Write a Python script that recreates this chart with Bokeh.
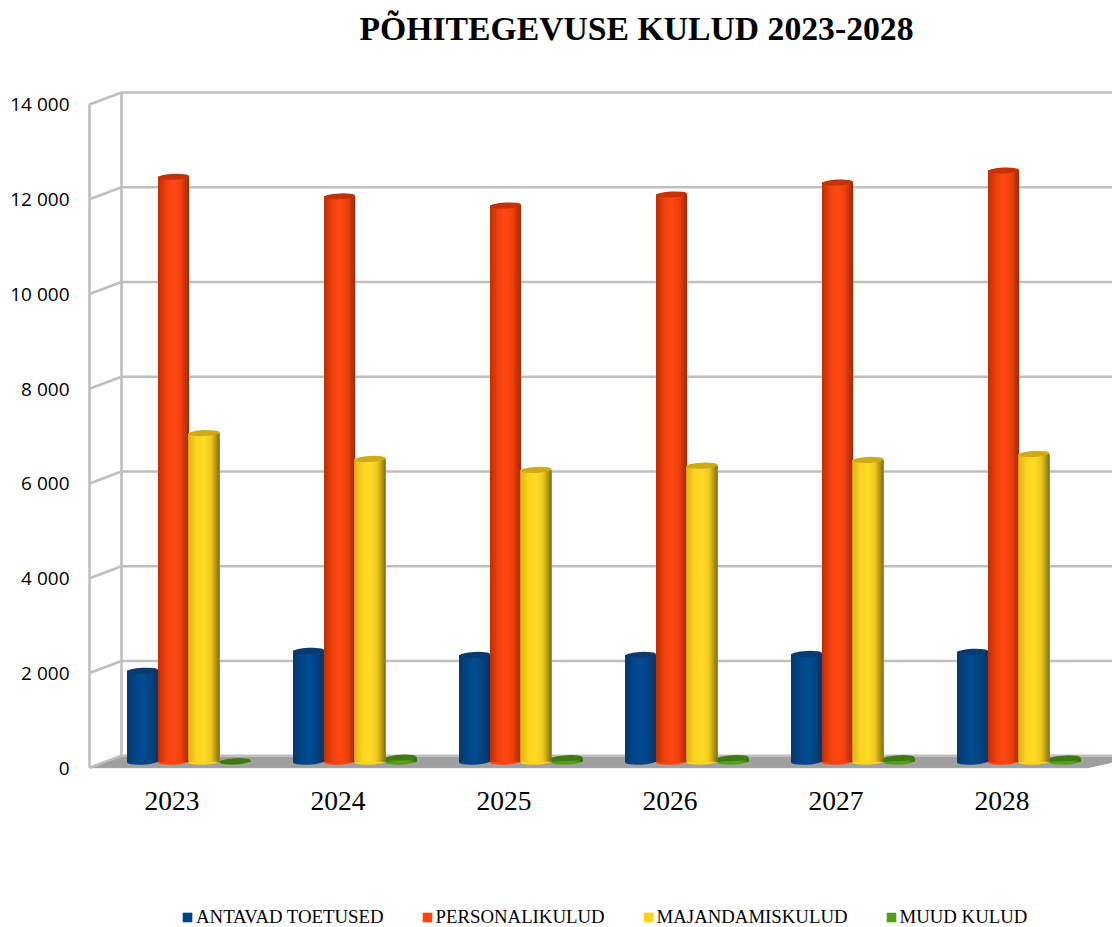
from bokeh.plotting import figure
from bokeh.models import FixedTicker, Legend, LegendItem, Range1d
from bokeh.embed import file_html
from bokeh.resources import INLINE

title_text = "PÕHITEGEVUSE KULUD 2023-2028"
years = [2023, 2024, 2025, 2026, 2027, 2028]
y_ticks = [0, 2000, 4000, 6000, 8000, 10000, 12000, 14000]
y_tick_labels = ["0", "2 000", "4 000", "6 000", "8 000", "10 000", "12 000", "14 000"]
series_names = ["ANTAVAD TOETUSED", "PERSONALIKULUD", "MAJANDAMISKULUD", "MUUD KULUD"]
antavad = [1919, 2340, 2253, 2253, 2274, 2319]
personal = [12345, 11933, 11740, 11972, 12225, 12478]
majandamis = [6937, 6390, 6158, 6249, 6369, 6495]
muud = [10, 84, 75, 75, 75, 70]

# page geometry of the pseudo-3D box, in pixels
W, H = 1112, 927
CANVAS_LEFT, CANVAS_TOP = 0, 0
PX_PER_CAT = 166.0
PX_PER_UNIT = 664.0 / 14000.0
LEFT, BOTTOM, TOP = 89, 767, 52
CAT_PX = 171.5
dx = lambda px: px / PX_PER_CAT
dy = lambda px: px / PX_PER_UNIT
DEPTH_X, DEPTH_Y = dx(32), dy(12)
x_of = lambda px: years[0] + (px - CAT_PX) / PX_PER_CAT
x0 = x_of(LEFT)
x1 = x_of(1112)

p = figure(
    width=W, height=H, output_backend="svg", toolbar_location=None,
    x_range=Range1d(x_of(CANVAS_LEFT), x_of(CANVAS_LEFT + W)),
    y_range=Range1d(dy(BOTTOM - (CANVAS_TOP + H)), dy(BOTTOM - TOP)),
    min_border_left=0, min_border_right=0,
    min_border_top=TOP - CANVAS_TOP, min_border_bottom=0,
    background_fill_color="white", border_fill_color="white", outline_line_color=None,
    title=title_text,
)
p.title.text_font = "Liberation Serif"
p.title.text_font_size = "33.7px"
p.title.text_font_style = "bold"
p.title.text_color = "black"
p.title.align = "left"
p.title.offset = 359
p.title.standoff = 14
p.xgrid.visible = False
p.ygrid.visible = False

WALL = "#bfbfbf"
WALL_W = 2.6

# axes
p.yaxis.fixed_location = x0
p.yaxis.ticker = FixedTicker(ticks=y_ticks)
p.yaxis.major_label_overrides = dict(zip(y_ticks, y_tick_labels))
p.yaxis.major_label_text_font = "Open Sans"
p.yaxis.major_label_text_font_size = "19px"
p.yaxis.major_label_text_color = "black"
p.yaxis.major_label_standoff = 14
p.yaxis.major_tick_line_color = None
p.yaxis.minor_tick_line_color = None
p.yaxis.axis_line_color = WALL
p.yaxis.axis_line_width = WALL_W
p.yaxis.bounds = (0, 14000)

p.xaxis.fixed_location = 0
p.xaxis.ticker = FixedTicker(ticks=years)
p.xaxis.major_label_text_font = "Liberation Serif"
p.xaxis.major_label_text_font_size = "27.5px"
p.xaxis.major_label_text_color = "black"
p.xaxis.major_label_standoff = 18
p.xaxis.major_tick_line_color = None
p.xaxis.minor_tick_line_color = None
p.xaxis.axis_line_color = None

# floor
p.patch([x0, x0 + DEPTH_X, x1 + dx(30), x1 - dx(25)], [0, DEPTH_Y, DEPTH_Y, 0],
        fill_color="#a0a0a0", line_color="#a0a0a0", line_width=1)

# walls
back_y = [t + DEPTH_Y for t in y_ticks]
p.segment(x0=[x0 + DEPTH_X] * len(y_ticks), x1=[x1] * len(y_ticks), y0=back_y, y1=back_y,
          line_color=WALL, line_width=WALL_W)
p.segment(x0=[x0] * len(y_ticks), x1=[x0 + DEPTH_X] * len(y_ticks), y0=y_ticks, y1=back_y,
          line_color=WALL, line_width=WALL_W)
p.segment(x0=[x0 + DEPTH_X], x1=[x0 + DEPTH_X], y0=[DEPTH_Y], y1=[14000 + DEPTH_Y],
          line_color=WALL, line_width=WALL_W)


def hex2(c):
    return [int(c[i:i + 2], 16) for i in (1, 3, 5)]


def ramp(stops, n):
    out = []
    for i in range(n):
        t = i / (n - 1) * (len(stops) - 1)
        k = min(int(t), len(stops) - 2)
        f = t - k
        a, b = hex2(stops[k]), hex2(stops[k + 1])
        out.append("#%02x%02x%02x" % tuple(round(a[j] + (b[j] - a[j]) * f) for j in range(3)))
    return out


styles = [
    dict(values=antavad, off=-29.5, base="#004586", top="#0a3a6e",
         stops=["#06396f", "#004586", "#004c94", "#004586", "#0a3564"]),
    dict(values=personal, off=1.5, base="#ff420e", top="#c43209",
         stops=["#bf3208", "#f0400d", "#ff4a12", "#f0400d", "#a92c07"]),
    dict(values=majandamis, off=32, base="#ffd320", top="#cdaa16",
         stops=["#e0b81a", "#ffd320", "#ffdc28", "#f0c81c", "#8f7a10"]),
    dict(values=muud, off=63, base="#579d1c", top="#3f7a10",
         stops=["#417a12", "#579d1c", "#66b022", "#579d1c", "#3c6e10"]),
]

BAR_W = dx(31)
BASE = dy(6)
ELL_H = dy(6)
N = 16
items = []
for name, st in zip(series_names, styles):
    xc = [y + dx(st["off"]) for y in years]
    tops = [v + BASE for v in st["values"]]
    p.ellipse(x=xc, y=[BASE] * 6, width=BAR_W, height=ELL_H, angle=0.05,
              fill_color=st["base"], line_color=None)
    body = p.vbar(x=xc, bottom=BASE, top=tops, width=BAR_W, fill_color=st["base"], line_color=None)
    items.append(LegendItem(label=name, renderers=[body]))
    colors = ramp(st["stops"], N)
    for i, c in enumerate(colors):
        lefts = [x - BAR_W / 2 + BAR_W * i / N for x in xc]
        rights = [x + BAR_W / 2 for x in xc]
        p.quad(left=lefts, right=rights, bottom=BASE, top=tops, fill_color=c, line_color=None)
    p.ellipse(x=xc, y=tops, width=BAR_W, height=ELL_H, angle=0.05,
              fill_color=st["top"], line_color=None)

legend = Legend(
    items=items, orientation="horizontal", location=(181, -1),
    glyph_width=12, glyph_height=12, label_standoff=3, spacing=37,
    padding=0, margin=0, background_fill_alpha=0, border_line_color=None,
    label_text_font="Liberation Serif", label_text_font_size="18.8px", label_text_color="black",
)
p.add_layout(legend, "center")

open("out.html", "w").write(file_html(p, INLINE))
